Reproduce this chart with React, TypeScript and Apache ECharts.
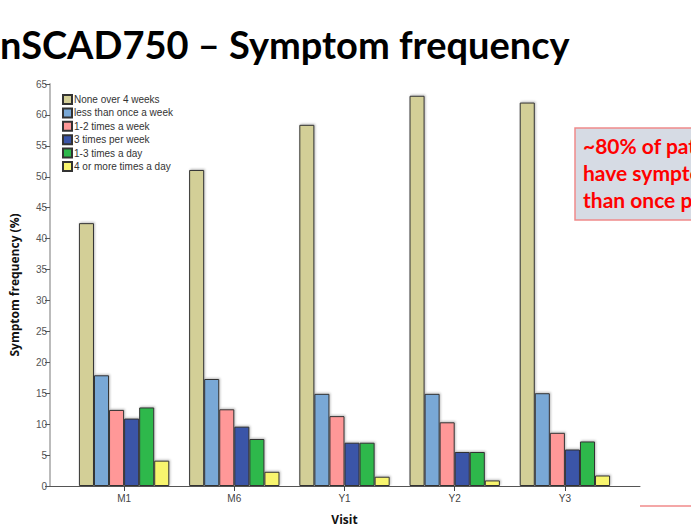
import React, { useEffect, useRef } from "react";
import * as echarts from "echarts";

const categories = ["M1", "M6", "Y1", "Y2", "Y3"];
const seriesNames = [
  "None over 4 weeks",
  "less than once a week",
  "1-2 times a week",
  "3 times per week",
  "1-3 times a day",
  "4 or more times a day",
];
const noneOver4Weeks = [42.5, 51.1, 58.4, 63.1, 62.0];
const lessThanOnceWeek = [17.9, 17.3, 14.9, 14.9, 15.0];
const oneTwoWeek = [12.3, 12.4, 11.3, 10.3, 8.6];
const threePerWeek = [10.9, 9.6, 7.0, 5.5, 5.9];
const oneThreeDay = [12.7, 7.6, 7.0, 5.5, 7.2];
const fourPlusDay = [4.1, 2.3, 1.5, 0.9, 1.7];
const seriesValues = [noneOver4Weeks, lessThanOnceWeek, oneTwoWeek, threePerWeek, oneThreeDay, fourPlusDay];
const colors = ["#d3cf97", "#79a8d6", "#ff9898", "#3a55a8", "#2db84b", "#f8f56e"];
const yTicks = { min: 0, max: 65, interval: 5 };

export default function App() {
  const ref = useRef<HTMLDivElement>(null);
  useEffect(() => {
    document.body.style.margin = "0";
    const chart = echarts.init(ref.current!, null, { renderer: "svg" });
    const axisFont = "Liberation Sans, Arial, sans-serif";
    chart.setOption({
      animation: false,
      backgroundColor: "#ffffff",
      textStyle: { fontFamily: axisFont },
      grid: [
        { left: 49, top: 84, width: 591, height: 402 },
        { left: 69, top: 84, width: 551, height: 402 },
      ],
      legend: {
        orient: "vertical",
        left: 62,
        top: 94,
        padding: 0,
        itemWidth: 9,
        itemHeight: 9,
        itemGap: 2.4,
        icon: "rect",
        textStyle: { fontSize: 10, color: "#333", lineHeight: 10, fontFamily: axisFont, padding: [0, 0, 0, -3] },
        data: seriesNames,
      },
      xAxis: [
        {
          type: "value",
          gridIndex: 0,
          min: 0,
          max: 1,
          axisLine: { show: true, lineStyle: { color: "#555", width: 1 } },
          axisTick: { show: false },
          axisLabel: { show: false },
          splitLine: { show: false },
        },
        {
          type: "category",
          gridIndex: 1,
          data: categories,
          axisLine: { show: false },
          axisTick: { show: true, alignWithLabel: true, length: 5, lineStyle: { color: "#444" } },
          axisLabel: { fontSize: 10, color: "#444", margin: 7, fontFamily: axisFont },
          name: "Visit",
          nameLocation: "middle",
          nameGap: 27,
          nameTextStyle: { fontSize: 12, fontWeight: "bold", color: "#111", fontFamily: "Open Sans, sans-serif" },
        },
      ],
      yAxis: [
        {
          type: "value",
          gridIndex: 0,
          ...yTicks,
          axisLine: { show: true, lineStyle: { color: "#bbbbbb", width: 2 } },
          axisTick: { show: true, length: 5, lineStyle: { color: "#555" } },
          axisLabel: { fontSize: 10, color: "#555", margin: 3, fontFamily: axisFont },
          splitLine: { show: false },
          name: "Symptom frequency (%)",
          nameLocation: "middle",
          nameGap: 30,
          nameTextStyle: { fontSize: 12, fontWeight: "bold", color: "#111", fontFamily: "Open Sans, sans-serif" },
        },
        {
          type: "value",
          gridIndex: 1,
          ...yTicks,
          show: false,
          splitLine: { show: false },
        },
      ],
      series: seriesNames.map((name, i) => ({
        type: "bar",
        name,
        xAxisIndex: 1,
        yAxisIndex: 1,
        data: seriesValues[i],
        barGap: "0%",
        barCategoryGap: "18%",
        itemStyle: {
          color: colors[i],
          borderColor: "#333",
          borderWidth: 1,
          shadowColor: "rgba(0,0,0,0.25)",
          shadowBlur: 2,
          shadowOffsetX: 1,
          shadowOffsetY: -1,
        },
      })),
      graphic: [
        {
          type: "text",
          left: 0,
          top: 25,
          style: {
            text: "nSCAD750 – Symptom frequency",
            font: "bold 38px Lato, sans-serif",
            fill: "#000",
          },
        },
        {
          type: "rect",
          shape: { x: 575, y: 128, width: 200, height: 92 },
          style: { fill: "#d6dbe4", stroke: "#f08a8a", lineWidth: 1.5 },
        },
        {
          type: "text",
          x: 583,
          y: 132,
          style: {
            text: "~80% of patients\nhave symptoms less\nthan once per week",
            font: "bold 21px Lato, sans-serif",
            fill: "#ff0000",
            lineHeight: 27,
          },
        },
        {
          type: "line",
          shape: { x1: 640, y1: 506, x2: 691, y2: 506 },
          style: { stroke: "#f08a8a", lineWidth: 1.5 },
        },
      ],
    });
    return () => chart.dispose();
  }, []);
  return <div ref={ref} style={{ width: 691, height: 532 }} />;
}
